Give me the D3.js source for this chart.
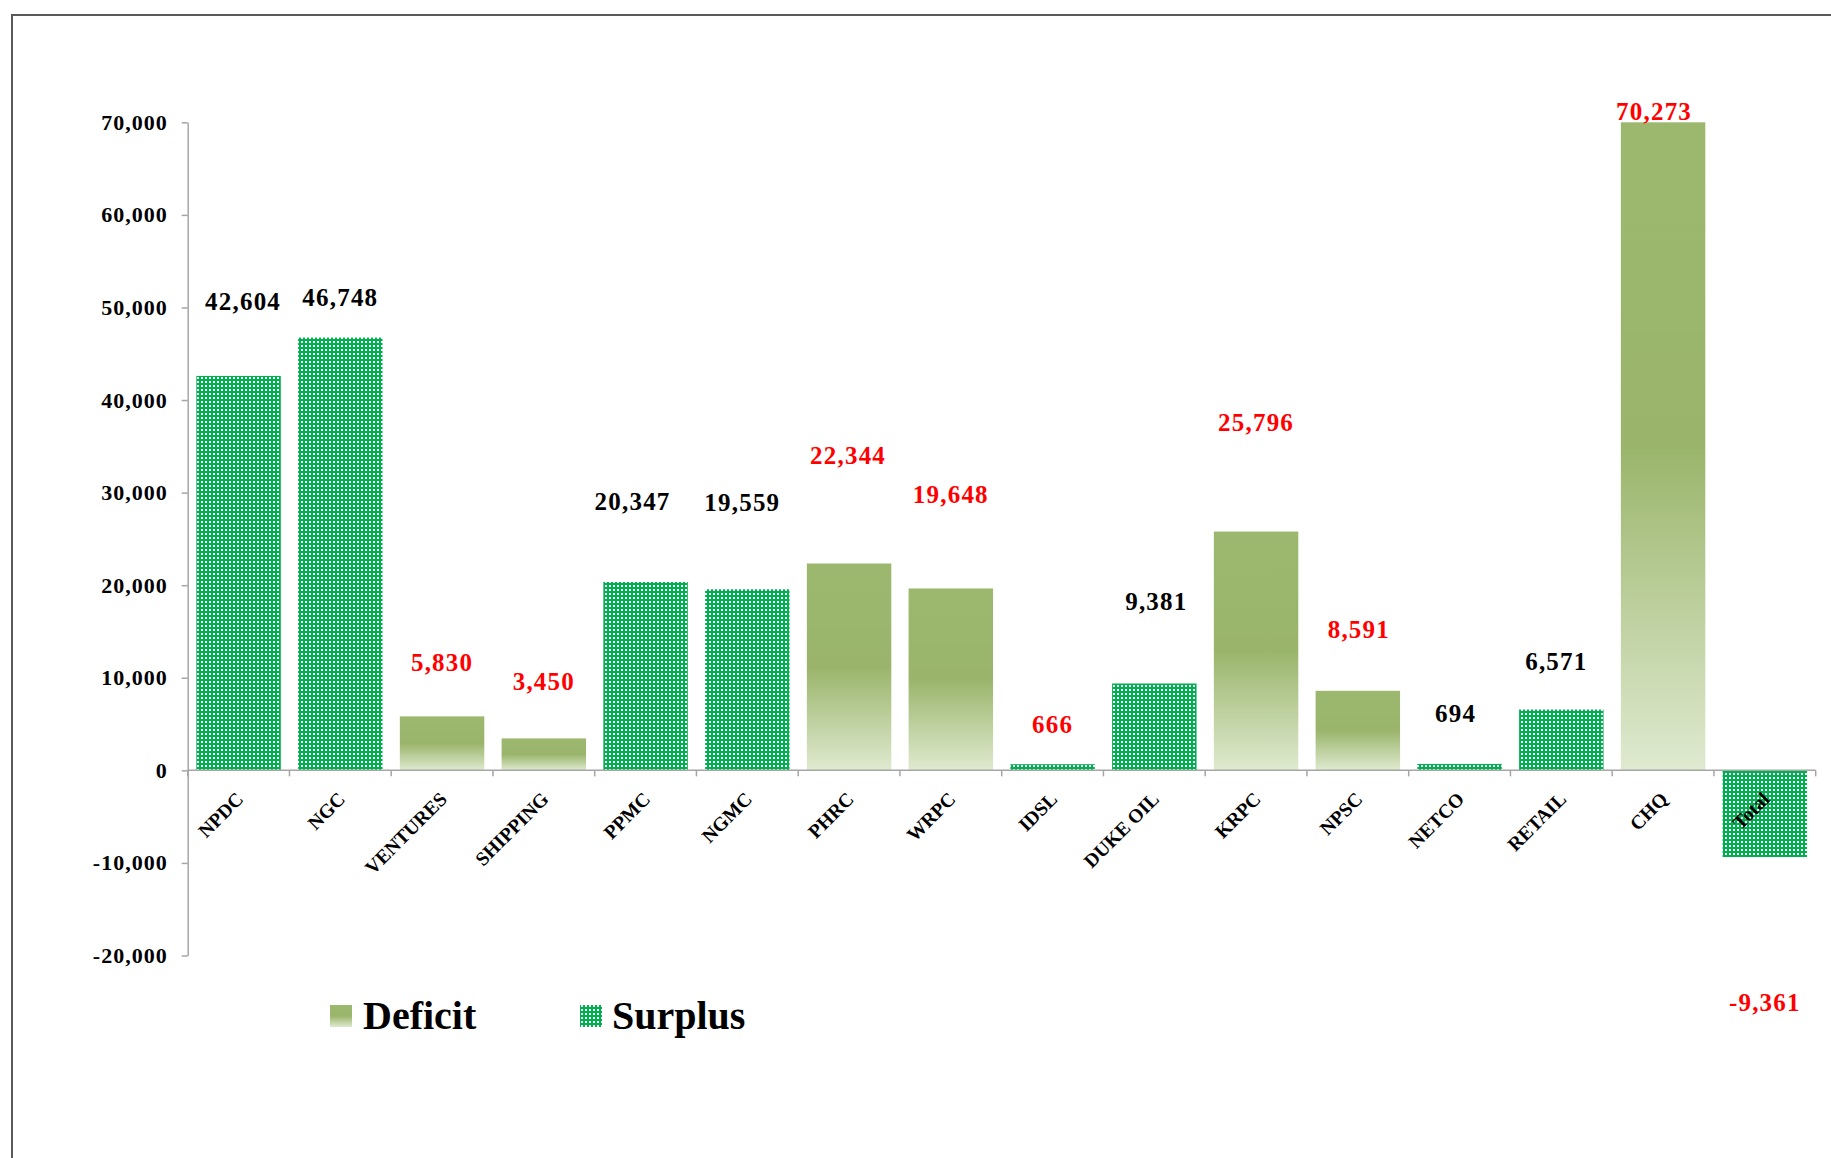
<!DOCTYPE html>
<html>
<head>
<meta charset="utf-8">
<script src="https://cdn.jsdelivr.net/npm/d3@7"></script>
<style>
  html, body { margin: 0; padding: 0; background: #ffffff; }
  svg { display: block; }
  text { font-family: "Liberation Serif", "DejaVu Serif", serif; font-weight: bold; }
</style>
</head>
<body>
<script>
// ---------------- DATA ----------------
const categories = ["NPDC", "NGC", "VENTURES", "SHIPPING", "PPMC", "NGMC", "PHRC", "WRPC",
                    "IDSL", "DUKE OIL", "KRPC", "NPSC", "NETCO", "RETAIL", "CHQ", "Total"];
const deficit = [null, null, 5830, 3450, null, null, 22344, 19648,
                 null, null, 25796, 8591, null, null, 70273, null];
const surplus = [42604, 46748, null, null, 20347, 19559, null, null,
                 666, 9381, null, null, 694, 6571, null, -9361];
const yTickValues = [-20000, -10000, 0, 10000, 20000, 30000, 40000, 50000, 60000, 70000];
const seriesNames = ["Deficit", "Surplus"];

// ---------------- LAYOUT / STYLE ----------------
const W = 1831, H = 1158;
// label colour per category (red / black as in the reference)
const labelRed = [false, false, true, true, false, false, true, true,
                  true, false, true, true, false, false, true, true];
// manual label offsets (px) from the bar end, as placed in the original chart
const labelOffset = [-74, -40, -54, -57, -80, -87, -108, -94,
                     -40, -82, -109, -61, -50, -48, -11, 145];
const labelShiftX = [4.5, 0, 0, 0, -13, -5, -1, 0,
                     0, 2, 0, 1, -4, -5, -9, 0];

const fmt = d3.formatLocale({ decimal: ".", thousands: ",", grouping: [3], currency: ["", ""], minus: "-" }).format(",");

const svg = d3.select("body").append("svg").attr("width", W).attr("height", H);
const defs = svg.append("defs");

const grad = defs.append("linearGradient").attr("id", "defGrad")
  .attr("x1", 0).attr("y1", 0).attr("x2", 0).attr("y2", 1);
grad.append("stop").attr("offset", "0").attr("stop-color", "#9CB86F");
grad.append("stop").attr("offset", "0.5").attr("stop-color", "#9AB56B");
grad.append("stop").attr("offset", "1").attr("stop-color", "#DFEAD0");

const pat = defs.append("pattern").attr("id", "surPat")
  .attr("patternUnits", "userSpaceOnUse").attr("width", 4).attr("height", 4);
pat.append("rect").attr("width", 4).attr("height", 4).attr("fill", "#00B050");
pat.append("rect").attr("x", 1).attr("y", 1).attr("width", 2).attr("height", 2).attr("fill", "#ffffff");

// frame
svg.append("rect").attr("x", 12).attr("y", 15).attr("width", W).attr("height", H)
  .attr("fill", "none").attr("stroke", "#595959").attr("stroke-width", 2);

// scales
const x = d3.scaleBand().domain(categories).range([187.7, 1815.7]).padding(0);
const y = d3.scaleLinear().domain([-20000, 70000]).range([955.5, 122.3]).clamp(true);
const barW = x.bandwidth() * 0.83;
const bx = c => x(c) + (x.bandwidth() - barW) / 2;

// bars
const rows = categories.map((c, i) => ({
  c, i,
  v: deficit[i] != null ? deficit[i] : surplus[i],
  type: deficit[i] != null ? "Deficit" : "Surplus"
}));

svg.append("g").selectAll("rect").data(rows).join("rect")
  .attr("x", d => bx(d.c))
  .attr("width", barW)
  .attr("y", d => Math.min(y(d.v), y(0)))
  .attr("height", d => Math.abs(y(d.v) - y(0)))
  .attr("fill", d => d.type === "Deficit" ? "url(#defGrad)" : "url(#surPat)");

// y axis
const yAxis = svg.append("g").attr("transform", "translate(187.7,0)")
  .call(d3.axisLeft(y).tickValues(yTickValues).tickSize(6).tickSizeOuter(0)
        .tickPadding(14).tickFormat(fmt));
yAxis.select(".domain").attr("stroke", "#a6a6a6").attr("stroke-width", 1.5);
yAxis.selectAll(".tick line").attr("stroke", "#a6a6a6").attr("stroke-width", 1.5);
yAxis.selectAll(".tick text")
  .attr("fill", "#000").style("font-size", "22px").style("letter-spacing", "1px")
  .style("font-family", "'Liberation Serif', serif").style("font-weight", "bold");

// x axis line and ticks at category boundaries
const y0 = y(0);
svg.append("line").attr("x1", x.range()[0]).attr("x2", x.range()[1])
  .attr("y1", y0).attr("y2", y0).attr("stroke", "#a6a6a6").attr("stroke-width", 1.5);
const bounds = categories.map(c => x(c)).concat([x.range()[1]]);
svg.append("g").selectAll("line").data(bounds).join("line")
  .attr("x1", d => d).attr("x2", d => d)
  .attr("y1", y0).attr("y2", y0 + 6)
  .attr("stroke", "#a6a6a6").attr("stroke-width", 1.5);

// category labels (rotated)
svg.append("g").selectAll("text").data(categories).join("text")
  .attr("transform", c => `translate(${x(c) + x.bandwidth() / 2 + 6},${y0 + 30}) rotate(-45)`)
  .attr("text-anchor", "end")
  .style("font-size", "19.5px")
  .attr("fill", "#000")
  .text(c => c);

// value labels
svg.append("g").selectAll("text").data(rows).join("text")
  .attr("x", d => x(d.c) + x.bandwidth() / 2 + labelShiftX[d.i])
  .attr("y", d => y(d.v) + labelOffset[d.i])
  .attr("dy", "0.34em")
  .attr("text-anchor", "middle")
  .style("font-size", "25px").style("letter-spacing", "1.2px")
  .attr("fill", d => labelRed[d.i] ? "#FF0000" : "#000000")
  .text(d => fmt(d.v));

// legend
const legend = svg.append("g");
const legItems = [
  { name: seriesNames[0], fill: "url(#defGrad)", x: 330, tx: 363 },
  { name: seriesNames[1], fill: "url(#surPat)", x: 580, tx: 612 }
];
legend.selectAll("rect").data(legItems).join("rect")
  .attr("x", d => d.x).attr("y", 1005).attr("width", 22).attr("height", 22)
  .attr("fill", d => d.fill);
legend.selectAll("text").data(legItems).join("text")
  .attr("x", d => d.tx).attr("y", 1029)
  .style("font-size", "40px").attr("fill", "#000")
  .text(d => d.name);
</script>
</body>
</html>
